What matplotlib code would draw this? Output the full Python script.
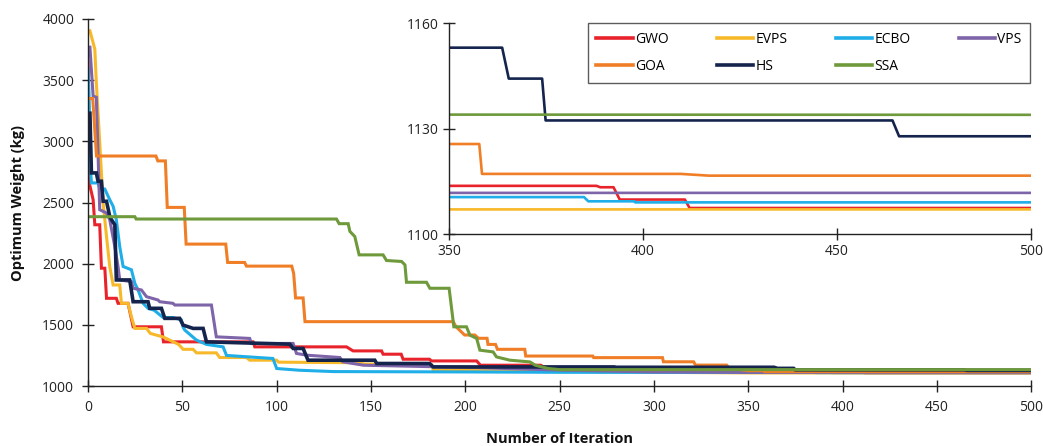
import matplotlib
matplotlib.use("Agg")
import matplotlib.pyplot as plt

plt.rcParams['font.family'] = ['Open Sans', 'DejaVu Sans']

# ---------------- data (iteration, optimum weight in kg) ----------------
GWO_x = [0, 0.8, 2.7, 3.6, 6.2, 7.1, 8.9, 9.8, 15, 15.9, 21.2, 23.9, 38.9, 40, 87.5, 88.4, 137, 140.5, 155.6, 156.4,
         166, 167, 181, 182, 206, 208, 240, 242, 280, 282, 330, 340, 388, 389, 392.4, 394, 410.8, 412, 500]
GWO_y = [3650, 2650, 2523, 2318, 2318, 1963, 1963, 1717, 1717, 1676, 1676, 1484, 1484, 1361, 1361, 1320, 1320, 1287, 1287, 1260,
         1260, 1219, 1219, 1205, 1205, 1170, 1170, 1150, 1150, 1125, 1125, 1113.7, 1113.7, 1113.3, 1113.3, 1109.8, 1109.8, 1107.4, 1107.4]

EVPS_x = [0, 1, 3.6, 4.4, 8, 9.8, 11.5, 13.3, 16.8, 17.7, 21.2, 23, 24.8, 31, 33, 40, 48, 50.4, 55.7, 57.5,
          68, 69.8, 84, 85.7, 100, 101, 145, 146, 182, 183, 250, 300, 350, 500]
EVPS_y = [3904, 3904, 3754, 3481, 2496, 2222, 1977, 1826, 1826, 1676, 1676, 1566, 1471, 1471, 1430, 1400, 1340, 1300, 1300, 1271,
          1271, 1233, 1233, 1211, 1211, 1195, 1190, 1180, 1175, 1129, 1120, 1112, 1107, 1107]

ECBO_x = [0, 0.5, 1.5, 1.8, 5.3, 6.2, 8.9, 11.5, 13.3, 15, 16.8, 18.6, 23, 24.8, 26.5, 29.2, 31.8, 35, 39.8, 45,
          49.5, 50.4, 51.3, 57.5, 62.8, 71.6, 73.4, 98, 100, 112, 130, 200, 250, 350, 384.8, 385.9, 397.8, 398, 500]
ECBO_y = [3600, 3400, 2729, 2660, 2660, 2610, 2610, 2523, 2469, 2360, 2140, 1977, 1950, 1840, 1785, 1676, 1635, 1620, 1560, 1560,
          1540, 1480, 1457, 1375, 1340, 1320, 1250, 1225, 1143, 1129, 1118, 1115, 1112, 1110.5, 1110.5, 1109.3, 1109.3, 1109, 1109]

VPS_x = [0, 1, 2.7, 4.4, 6.2, 9.8, 11.5, 14.2, 15.9, 16.8, 23, 23.9, 28.3, 31, 37.1, 38, 45, 46, 65.4, 68,
         85.7, 86.6, 108.7, 110.5, 116, 133.5, 135, 146, 207, 250, 300, 350, 500]
VPS_y = [3770, 3770, 3371, 3360, 2441, 2414, 2360, 2140, 1977, 1867, 1853, 1799, 1785, 1730, 1703, 1689, 1676, 1662, 1662, 1402,
         1389, 1348, 1348, 1266, 1252, 1233, 1198, 1170, 1150, 1130, 1115, 1111.7, 1111.7]

GOA_x = [0, 2.5, 4.5, 36, 37, 41, 42, 51, 52, 73, 74, 83, 84, 108, 109, 110, 114, 115, 193.6, 195,
         199.6, 205, 207, 211.5, 212, 216, 217, 231.5, 232, 267.5, 268, 304.5, 305, 321, 322, 338.5, 340, 350, 357.8,
         358.5, 409.7, 417, 500]
GOA_y = [3350, 3350, 2880, 2880, 2840, 2840, 2460, 2460, 2160, 2160, 2010, 2010, 1980, 1980, 1920, 1720, 1720, 1526, 1526, 1485,
         1417, 1417, 1390, 1390, 1340, 1340, 1300, 1300, 1245, 1245, 1232, 1232, 1198, 1198, 1171, 1171, 1145, 1125.6, 1125.6,
         1117.1, 1117.1, 1116.6, 1116.6]

HS_x = [0, 1, 1.8, 4.4, 5.3, 7.1, 8, 9.8, 11.5, 12.4, 14.2, 15, 22.1, 23.9, 31.8, 32.7, 38.9, 40.7, 48.6, 50.4,
        55.7, 61, 62.8, 107, 108.7, 114, 116.6, 152, 153, 181, 183, 279, 280, 363.7, 365.4, 374, 374.9, 464.3, 466, 500]
HS_y = [3230, 3230, 2742, 2742, 2674, 2674, 2510, 2510, 2387, 2360, 2318, 1867, 1867, 1689, 1689, 1635, 1635, 1553, 1553, 1498,
        1471, 1471, 1361, 1342, 1307, 1307, 1211, 1211, 1184, 1184, 1156, 1156, 1153, 1153, 1144.2, 1144.2, 1132.3, 1132.3, 1127.8, 1127.8]

SSA_x = [0, 24.8, 25.5, 131.7, 133.1, 137.9, 138.8, 141.4, 143.7, 156.4, 158.2, 166.2, 168, 168.8, 179.4, 181.2, 191.4, 193.9, 196.2, 200.6,
         202.4, 206, 207.7, 214.7, 216.5, 223.6, 234.2, 235, 237, 244, 250, 500]
SSA_y = [2384, 2384, 2365, 2365, 2327, 2327, 2264, 2222, 2072, 2072, 2026, 2018, 1990, 1848, 1848, 1799, 1799, 1484, 1484, 1484,
         1416, 1389, 1293, 1279, 1238, 1211, 1197, 1190, 1170, 1143, 1134, 1133.9]

names = ["GWO", "EVPS", "ECBO", "VPS", "GOA", "HS", "SSA"]
series = [(GWO_x, GWO_y), (EVPS_x, EVPS_y), (ECBO_x, ECBO_y), (VPS_x, VPS_y),
          (GOA_x, GOA_y), (HS_x, HS_y), (SSA_x, SSA_y)]
colors = ["#E8232B", "#F7B92A", "#1FAEE8", "#7E64A8", "#F07E26", "#14244D", "#6E9A3C"]
main_lw = [2.2, 2.2, 2.2, 2.2, 2.2, 2.6, 2.2]

x_ticks = [0, 50, 100, 150, 200, 250, 300, 350, 400, 450, 500]
y_ticks = [1000, 1500, 2000, 2500, 3000, 3500, 4000]
inset_x_ticks = [350, 400, 450, 500]
inset_y_ticks = [1100, 1130, 1160]

# ---------------- figure ----------------
fig = plt.figure(figsize=(10.43, 4.46), dpi=100)
ax = fig.add_axes([0.0844, 0.1345, 0.9044, 0.8229])

for (xs, ys), c, lw, n in zip(series, colors, main_lw, names):
    ax.plot(xs, ys, color=c, lw=lw, label=n, solid_joinstyle='miter')

ax.set_xlim(0, 500)
ax.set_ylim(1000, 4000)
ax.set_xticks(x_ticks)
ax.set_yticks(y_ticks)
for s in ['top', 'right']:
    ax.spines[s].set_visible(False)
for s in ['left', 'bottom']:
    ax.spines[s].set_color('#222222')
    ax.spines[s].set_linewidth(1.0)
ax.tick_params(direction='inout', length=8, width=1, colors='#222222', labelsize=10, labelcolor='#222222')
ax.tick_params(axis='y', pad=6)
ax.tick_params(axis='x', pad=6)
ax.set_xlabel("Number of Iteration", fontsize=10.5, fontweight='bold', labelpad=12, color='#111111')
ax.set_ylabel("Optimum Weight (kg)", fontsize=10.5, fontweight='bold', labelpad=12, color='#111111')

# ---------------- inset ----------------
ins = fig.add_axes([0.4305, 0.4753, 0.558, 0.473])
ins.set_facecolor('white')
handles = []
for (xs, ys), c, n in zip(series, colors, names):
    h, = ins.plot(xs, ys, color=c, lw=1.9, label=n)
    handles.append(h)
ins.set_xlim(350, 500)
ins.set_ylim(1100, 1160)
ins.set_xticks(inset_x_ticks)
ins.set_yticks(inset_y_ticks)
for s in ['top', 'right']:
    ins.spines[s].set_visible(False)
for s in ['left', 'bottom']:
    ins.spines[s].set_color('#222222')
    ins.spines[s].set_linewidth(1.0)
ins.tick_params(direction='inout', length=8, width=1, colors='#222222', labelsize=10, labelcolor='#222222')

# legend laid out row-wise (matplotlib fills column-wise)
order = [0, 4, 1, 5, 2, 6, 3]
leg = ins.legend([handles[i] for i in order], [names[i] for i in order],
                 ncol=4, loc='lower left', bbox_to_anchor=(0.239, 0.718, 0.759, 0.298),
                 mode='expand', frameon=True, fancybox=False, fontsize=10,
                 handlelength=2.6, handletextpad=0.15, borderaxespad=0, columnspacing=1.0,
                 labelspacing=0.9, borderpad=0.6)
leg.get_frame().set_edgecolor('#333333')
leg.get_frame().set_linewidth(1.0)
for line in leg.get_lines():
    line.set_linewidth(2.6)

fig.savefig("out.png", dpi=100)
